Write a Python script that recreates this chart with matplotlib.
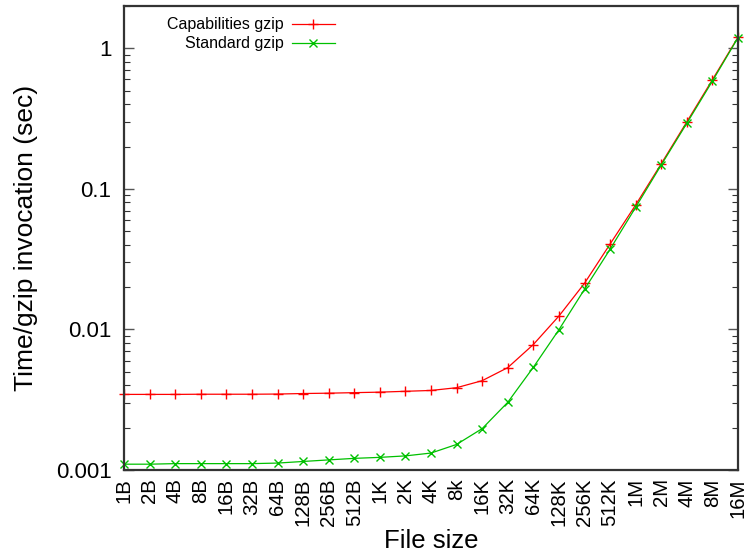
import matplotlib
matplotlib.use("Agg")
import matplotlib.pyplot as plt
import numpy as np
from matplotlib.ticker import FixedLocator, FixedFormatter, LogLocator, NullFormatter

plt.rcParams["font.family"] = ["Liberation Sans", "DejaVu Sans"]

sizes = ["1B", "2B", "4B", "8B", "16B", "32B", "64B", "128B", "256B", "512B",
         "1K", "2K", "4K", "8k", "16K", "32K", "64K", "128K", "256K", "512K",
         "1M", "2M", "4M", "8M", "16M"]

cap_gzip = [0.00345, 0.00345, 0.00345, 0.00346, 0.00346, 0.00346, 0.00347, 0.00350,
            0.00352, 0.00355, 0.00358, 0.00363, 0.00368, 0.00385, 0.00432, 0.00535,
            0.00781, 0.01245, 0.0213, 0.0405, 0.0769, 0.151, 0.300, 0.598, 1.20]

std_gzip = [0.00110, 0.00110, 0.00111, 0.00111, 0.00111, 0.00111, 0.00112, 0.00115,
            0.00118, 0.00121, 0.00123, 0.00126, 0.00132, 0.00152, 0.00197, 0.00303,
            0.00538, 0.00995, 0.0193, 0.0372, 0.0740, 0.148, 0.293, 0.585, 1.19]

ytick_vals = [0.001, 0.01, 0.1, 1]
ytick_text = ["0.001", "0.01", "0.1", "1"]

fig = plt.figure(figsize=(7.45, 5.54), dpi=100)
ax = fig.add_axes([124/745, 1-470/554, (738-124)/745, (470-6)/554])

x = np.arange(len(sizes))
ax.plot(x, cap_gzip, color="#ff0000", lw=0.9, marker="+", ms=7, mew=1.0,
        label="Capabilities gzip", clip_on=False)
ax.plot(x, std_gzip, color="#00c000", lw=0.9, marker="x", ms=6, mew=1.0,
        label="Standard gzip", clip_on=False)

ax.set_yscale("log")
ax.set_ylim(0.001, 2.0)
ax.set_xlim(0, len(sizes) - 1)

ax.yaxis.set_major_locator(FixedLocator(ytick_vals))
ax.yaxis.set_major_formatter(FixedFormatter(ytick_text))
ax.yaxis.set_minor_locator(LogLocator(base=10, subs=np.arange(2, 10)))
ax.yaxis.set_minor_formatter(NullFormatter())
ax.tick_params(axis="y", which="major", direction="in", length=7, width=1.0,
               right=True, labelsize=16, pad=9, color="#555555")
ax.tick_params(axis="y", which="minor", direction="in", length=4, width=0.8,
               right=True, color="#333333")

ax.set_xticks(x)
ax.set_xticklabels(sizes, rotation=90)
ax.tick_params(axis="x", length=0, labelsize=14.7, pad=6)

for s in ax.spines.values():
    s.set_linewidth(1.6)
    s.set_color("#333333")

ax.set_xlabel("File size", fontsize=18.5, labelpad=2)
ax.set_ylabel("Time/gzip invocation (sec)", fontsize=19, labelpad=13)

ax.legend(loc="upper left", bbox_to_anchor=(0.052, 1.0), frameon=False,
          fontsize=11.5, markerfirst=False, handlelength=2.7,
          handletextpad=0.5, labelspacing=0.25, borderaxespad=0.3)
leg = ax.get_legend()
for t in leg.get_texts():
    t.set_ha("right")
leg._legend_box.align = "right"

fig.savefig("out.png", dpi=100)
